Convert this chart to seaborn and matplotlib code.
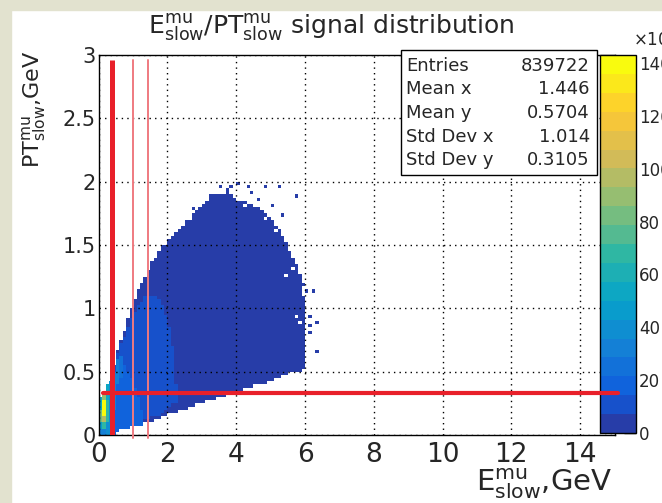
import numpy as np
import pandas as pd
import seaborn as sns
import matplotlib.pyplot as plt
from matplotlib.colors import LinearSegmentedColormap, ListedColormap
from matplotlib.patches import Rectangle
from matplotlib.lines import Line2D
from matplotlib.ticker import MultipleLocator

sns.set_style("white")
plt.rcParams["font.family"] = ["DejaVu Sans"]
plt.rcParams["mathtext.default"] = "regular"

# ---- values (bins: 0.1 GeV in x, 0.025 GeV in y) ----
col_left = [round(0.1 * i, 1) for i in range(60)]
upper = [0.30, 0.32, 0.40, 0.42, 0.55, 0.68, 0.76, 0.82, 0.92, 1.00,
         1.08, 1.14, 1.20, 1.26, 1.31, 1.37, 1.41, 1.45, 1.49, 1.51,
         1.54, 1.57, 1.60, 1.63, 1.66, 1.69, 1.71, 1.74, 1.77, 1.80,
         1.82, 1.85, 1.87, 1.89, 1.90, 1.91, 1.91, 1.92, 1.91, 1.88,
         1.85, 1.85, 1.84, 1.83, 1.82, 1.81, 1.79, 1.77, 1.75, 1.72,
         1.69, 1.66, 1.62, 1.58, 1.53, 1.46, 1.40, 1.35, 1.28, 1.10]
lower = [0.0, 0.0, 0.0, 0.0, 0.0, 0.025, 0.04, 0.05, 0.06, 0.065,
         0.075, 0.08, 0.085, 0.09, 0.10, 0.11, 0.12, 0.13, 0.145, 0.155,
         0.165, 0.175, 0.185, 0.19, 0.20, 0.21, 0.22, 0.23, 0.24, 0.25,
         0.255, 0.265, 0.275, 0.285, 0.295, 0.30, 0.31, 0.32, 0.33, 0.34,
         0.35, 0.36, 0.37, 0.375, 0.38, 0.39, 0.40, 0.405, 0.41, 0.42,
         0.43, 0.445, 0.455, 0.47, 0.48, 0.49, 0.50, 0.505, 0.51, 0.525]
mid_top = [0.30, 0.32, 0.40, 0.42, 0.55, 0.66, 0.72, 0.78, 0.85, 0.92,
           0.97, 1.02, 1.06, 1.09, 1.10, 1.11, 1.10, 1.08, 1.02, 0.95,
           0.85, 0.70, 0.40] + [0.0] * 37
mid_bot = [0.0] * 10 + [0.09, 0.10, 0.11, 0.12, 0.13, 0.14, 0.15, 0.16,
                        0.18, 0.20, 0.22, 0.24, 0.25] + [0.0] * 37
bright_top = [0.30, 0.32, 0.40, 0.42, 0.50, 0.55, 0.58, 0.55, 0.50, 0.45,
              0.38, 0.30, 0.20] + [0.0] * 47
body_count = 300
mid_count = 12000
bright_count = 18000

hot_x = [0.0, 0.0, 0.0, 0.0, 0.1, 0.1, 0.1, 0.1, 0.1, 0.2, 0.2, 0.2, 0.3, 0.4, 0.5, 0.6]
hot_y0 = [0.0, 0.05, 0.10, 0.20, 0.0, 0.05, 0.10, 0.15, 0.275, 0.0, 0.10, 0.275, 0.0, 0.20, 0.40, 0.45]
hot_y1 = [0.05, 0.10, 0.20, 0.30, 0.05, 0.10, 0.15, 0.275, 0.32, 0.10, 0.275, 0.40, 0.42, 0.50, 0.60, 0.62]
hot_n = [30000, 50000, 80000, 55000, 35000, 70000, 95000, 140000, 90000,
         40000, 70000, 55000, 40000, 35000, 30000, 25000]

out_x = [3.25, 3.55, 3.75, 3.85, 4.05, 4.35, 4.45, 4.65, 4.85, 5.05, 5.25,
         5.35, 5.75, 5.95, 6.05, 6.15, 6.15, 6.15, 6.25, 6.35, 6.35, 2.75]
out_y = [1.89, 1.95, 1.93, 1.97, 1.99, 1.97, 1.92, 1.87, 1.97, 1.80, 1.97,
         1.74, 1.88, 1.20, 1.15, 0.95, 0.86, 0.80, 1.13, 0.89, 0.65, 1.78]
hole_x = [5.45, 5.65, 5.15, 4.85, 5.75, 5.85, 4.25]
hole_y = [1.25, 1.30, 1.60, 1.71, 0.95, 0.88, 1.80]

stat_names = ["Entries", "Mean x", "Mean y", "Std Dev x", "Std Dev y"]
stat_values = ["839722", "1.446", "0.5704", "1.014", "0.3105"]
z_ticks = [0, 20000, 40000, 60000, 80000, 100000, 120000, 140000]
z_labels = ["0", "20", "40", "60", "80", "100", "120", "140"]
z_max = 143000

# ---- fill the bin grid ----
dx, dy = 0.1, 0.025
cells = {}
for i, x0 in enumerate(col_left):
    ix = int(round(x0 / dx))
    for iy in range(int(round(lower[i] / dy)), int(round(upper[i] / dy))):
        yc = (iy + 0.5) * dy
        n = body_count
        if mid_bot[i] <= yc < mid_top[i]:
            n = mid_count
        if yc < bright_top[i]:
            n = bright_count
        cells[(ix, iy)] = n
for x0, a, b, n in zip(hot_x, hot_y0, hot_y1, hot_n):
    for iy in range(int(round(a / dy)), int(round(b / dy))):
        cells[(int(round(x0 / dx)), iy)] = n
for x, y in zip(out_x, out_y):
    cells[(int(x / dx), int(y / dy))] = 5
for x, y in zip(hole_x, hole_y):
    cells.pop((int(x / dx), int(y / dy)), None)

df = pd.DataFrame({
    "E": [(k[0] + 0.5) * dx for k in cells],
    "PT": [(k[1] + 0.5) * dy for k in cells],
    "n": list(cells.values()),
})

# ROOT kBird palette, 20 contour levels picked the way ROOT does
bird = LinearSegmentedColormap.from_list("bird", list(zip(np.linspace(0, 1, 9), zip(
    [0.2082, 0.0592, 0.0780, 0.0232, 0.1802, 0.5301, 0.8186, 0.9956, 0.9764],
    [0.1664, 0.3599, 0.5041, 0.6419, 0.7178, 0.7492, 0.7328, 0.7862, 0.9832],
    [0.5293, 0.8684, 0.8385, 0.7914, 0.6425, 0.4662, 0.3499, 0.1968, 0.0539]))))
cmap = ListedColormap(bird(np.floor((np.arange(20) + 0.99) * 255 / 20) / 254))

fig = plt.figure(figsize=(6.62, 5.03), dpi=100)
fig.add_artist(Rectangle((0, 0), 11 / 662, 1, transform=fig.transFigure,
                         color="#e2e2cf", zorder=0))
fig.add_artist(Rectangle((0, 1 - 10 / 503), 1, 10 / 503, transform=fig.transFigure,
                         color="#e2e2cf", zorder=0))

ax = fig.add_axes([98.7 / 662, 68 / 503, 515.8 / 662, 380 / 503])
sns.histplot(data=df, x="E", y="PT", weights="n", binwidth=(dx, dy),
             binrange=((0, 15), (0, 3)), cmap=cmap, vmin=0, vmax=z_max, ax=ax)
mesh = ax.collections[0]
mesh.set_clim(0, z_max)

ax.set_xlim(0, 15)
ax.set_ylim(0, 3)
ax.set_xlabel("")
ax.set_ylabel("")
ax.xaxis.set_major_locator(MultipleLocator(2))
ax.xaxis.set_minor_locator(MultipleLocator(0.5))
ax.yaxis.set_major_locator(MultipleLocator(0.5))
ax.yaxis.set_minor_locator(MultipleLocator(0.1))
ax.yaxis.set_major_formatter(plt.FuncFormatter(lambda v, p: f"{v:g}"))
ax.tick_params(which="both", direction="in", top=False, right=False, color="black", width=1)
ax.tick_params(which="major", length=8)
ax.tick_params(which="minor", length=4.5)
ax.tick_params(axis="x", labelsize=19, pad=5)
ax.tick_params(axis="y", labelsize=15, pad=2)
ax.set_axisbelow(False)
ax.grid(True, which="major", color="black", linestyle=(0, (1, 3)), linewidth=1)
for s in ax.spines.values():
    s.set_color("black")
    s.set_linewidth(1)

# red cut lines
ax.plot([0.4, 0.4], [0, 2.96], color="#e8202a", lw=3.6, solid_capstyle="butt", zorder=6)
ax.plot([1.0, 1.0], [-0.02, 2.96], color="#ef7a80", lw=1.4, clip_on=False, zorder=6)
ax.plot([1.43, 1.43], [-0.02, 2.96], color="#ef7a80", lw=1.4, clip_on=False, zorder=6)
fig.add_artist(Line2D([0.13, 15.1], [0.334, 0.334], transform=ax.transData,
                      color="#e8202a", lw=3, zorder=10))

# palette
cax = fig.add_axes([600 / 662, 70 / 503, 36 / 662, 378 / 503])
cb = fig.colorbar(mesh, cax=cax)
cb.set_ticks(z_ticks)
cb.set_ticklabels(z_labels)
cb.minorticks_off()
cb.outline.set_edgecolor("black")
cb.outline.set_linewidth(1)
cax.tick_params(direction="in", length=9, width=1, labelsize=12, pad=2, color="black")
fig.text(633 / 662, 1 - 40 / 503, r"$\times10^{3}$", fontsize=12, ha="left", va="center")

# stats box
fig.add_artist(Rectangle((401 / 662, 1 - 175 / 503), 196 / 662, 125 / 503,
                         transform=fig.transFigure, facecolor="white",
                         edgecolor="black", lw=1, zorder=5))
for k, (name, val) in enumerate(zip(stat_names, stat_values)):
    yy = 1 - (66 + 23.5 * k) / 503
    fig.text(406 / 662, yy, name, fontsize=13, ha="left", va="center", zorder=6)
    fig.text(590 / 662, yy, val, fontsize=13, ha="right", va="center", zorder=6)

fig.text(331 / 662, 1 - 27 / 503, r"$E^{mu}_{slow}$/$PT^{mu}_{slow}$ signal distribution",
         fontsize=18, ha="center", va="center")
fig.text(612 / 662, 1 - 491 / 503, r"$E^{mu}_{slow}$,GeV", fontsize=21, ha="right", va="baseline")
fig.text(34 / 662, 1 - 50 / 503, r"$PT^{mu}_{slow}$,GeV", fontsize=16, rotation=90,
         ha="center", va="top")

fig.savefig("out.png", dpi=100)
